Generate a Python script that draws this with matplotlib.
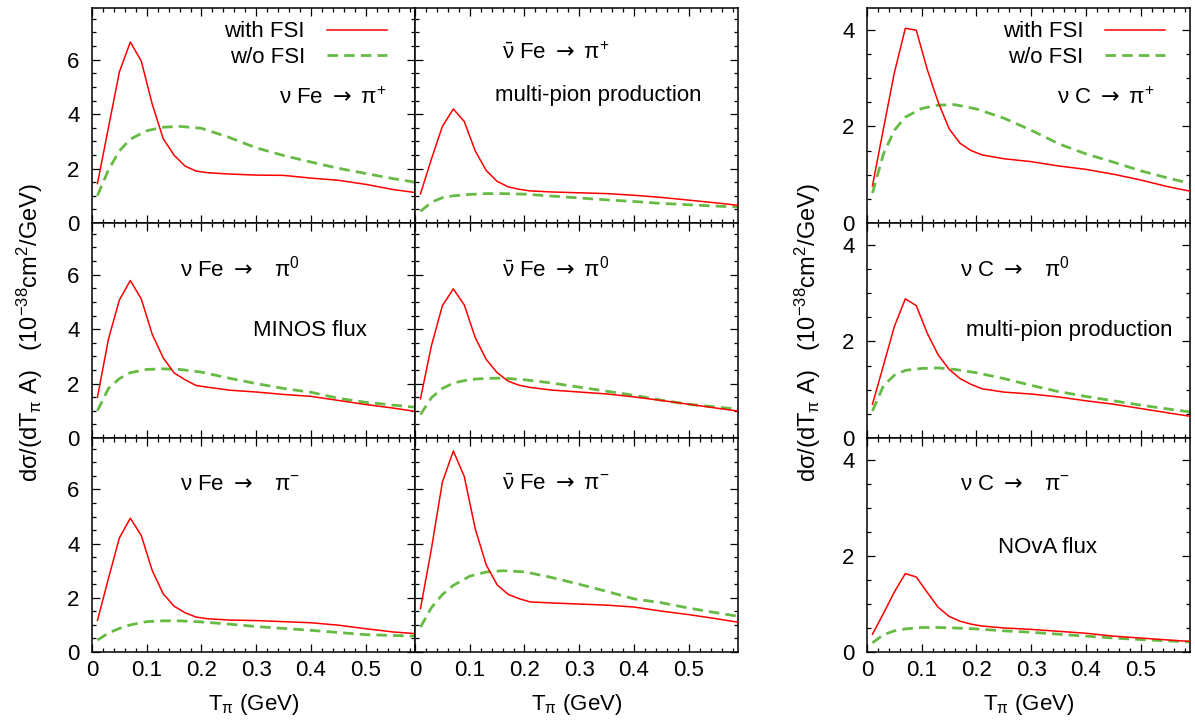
import matplotlib
matplotlib.use("Agg")
import matplotlib.pyplot as plt
from matplotlib.ticker import MultipleLocator

plt.rcParams['font.family'] = ['Liberation Sans', 'DejaVu Sans']
plt.rcParams['mathtext.fontset'] = 'custom'
plt.rcParams['mathtext.rm'] = 'Liberation Sans'
plt.rcParams['mathtext.it'] = 'Liberation Sans'
plt.rcParams['mathtext.sf'] = 'DejaVu Sans'
plt.rcParams['mathtext.default'] = 'rm'

# pion kinetic energy grids (GeV)
t_fsi = [0.01, 0.03, 0.05, 0.07, 0.09, 0.11, 0.13, 0.15, 0.17, 0.19, 0.21,
         0.25, 0.30, 0.35, 0.40, 0.45, 0.50, 0.55, 0.59]
t_nofsi = [0.01, 0.03, 0.05, 0.07, 0.10, 0.13, 0.16, 0.20, 0.25, 0.30, 0.35,
           0.40, 0.45, 0.50, 0.55, 0.59]

# cross sections, 1e-38 cm^2/GeV per nucleon -- with FSI
nu_fe_pip_fsi = [1.45, 3.50, 5.55, 6.65, 5.95, 4.37, 3.10, 2.49, 2.09, 1.91, 1.85,
                 1.80, 1.76, 1.75, 1.65, 1.57, 1.42, 1.23, 1.12]
nubar_fe_pip_fsi = [1.07, 2.35, 3.55, 4.19, 3.73, 2.65, 1.93, 1.53, 1.33, 1.24, 1.18,
                    1.14, 1.11, 1.08, 1.02, 0.94, 0.84, 0.74, 0.65]
nu_c_pip_fsi = [0.77, 1.95, 3.11, 4.03, 3.99, 3.18, 2.50, 1.95, 1.65, 1.50, 1.41,
                1.33, 1.27, 1.18, 1.11, 1.01, 0.89, 0.75, 0.66]
nu_fe_pi0_fsi = [1.50, 3.63, 5.07, 5.79, 5.11, 3.81, 2.95, 2.39, 2.14, 1.93, 1.87,
                 1.76, 1.69, 1.60, 1.53, 1.38, 1.23, 1.10, 0.98]
nubar_fe_pi0_fsi = [1.44, 3.39, 4.86, 5.48, 4.89, 3.69, 2.89, 2.40, 2.09, 1.94, 1.86,
                    1.76, 1.69, 1.62, 1.51, 1.38, 1.24, 1.10, 0.99]
nu_c_pi0_fsi = [0.70, 1.50, 2.31, 2.88, 2.74, 2.17, 1.72, 1.42, 1.23, 1.11, 1.02,
                0.95, 0.91, 0.85, 0.77, 0.70, 0.61, 0.52, 0.45]
nu_fe_pim_fsi = [1.17, 2.71, 4.21, 4.94, 4.30, 3.01, 2.15, 1.69, 1.45, 1.29, 1.23,
                 1.18, 1.16, 1.12, 1.08, 0.99, 0.86, 0.74, 0.68]
nubar_fe_pim_fsi = [1.60, 3.81, 6.27, 7.42, 6.48, 4.55, 3.22, 2.48, 2.13, 1.97, 1.85,
                    1.81, 1.77, 1.73, 1.66, 1.51, 1.38, 1.23, 1.10]
nu_c_pim_fsi = [0.37, 0.80, 1.25, 1.63, 1.56, 1.24, 0.93, 0.74, 0.64, 0.58, 0.54,
                0.50, 0.47, 0.43, 0.39, 0.33, 0.29, 0.25, 0.22]

# without FSI
nu_fe_pip_nofsi = [1.01, 1.95, 2.65, 3.08, 3.39, 3.52, 3.55, 3.48, 3.15, 2.76, 2.48,
                   2.24, 2.01, 1.82, 1.63, 1.50]
nubar_fe_pip_nofsi = [0.43, 0.76, 0.93, 1.00, 1.05, 1.08, 1.08, 1.06, 0.99, 0.92, 0.85,
                      0.79, 0.72, 0.67, 0.62, 0.59]
nu_c_pip_nofsi = [0.62, 1.43, 1.92, 2.19, 2.37, 2.44, 2.45, 2.36, 2.17, 1.92, 1.64,
                  1.43, 1.26, 1.08, 0.93, 0.82]
nu_fe_pi0_nofsi = [1.00, 1.82, 2.18, 2.40, 2.52, 2.54, 2.52, 2.42, 2.20, 2.00, 1.82,
                   1.68, 1.46, 1.31, 1.21, 1.13]
nubar_fe_pi0_nofsi = [0.86, 1.48, 1.82, 2.02, 2.15, 2.19, 2.20, 2.14, 2.02, 1.87, 1.72,
                      1.57, 1.39, 1.24, 1.14, 1.06]
nu_c_pi0_nofsi = [0.56, 1.08, 1.30, 1.40, 1.44, 1.45, 1.42, 1.35, 1.23, 1.09, 0.96,
                  0.86, 0.77, 0.68, 0.60, 0.54]
nu_fe_pim_nofsi = [0.44, 0.70, 0.87, 1.00, 1.12, 1.15, 1.15, 1.11, 1.03, 0.94, 0.87,
                   0.80, 0.72, 0.64, 0.61, 0.59]
nubar_fe_pim_nofsi = [0.92, 1.64, 2.12, 2.46, 2.80, 2.95, 3.00, 2.96, 2.75, 2.50, 2.24,
                      1.96, 1.82, 1.62, 1.45, 1.32]
nu_c_pim_nofsi = [0.19, 0.36, 0.44, 0.48, 0.51, 0.51, 0.50, 0.48, 0.44, 0.41, 0.37,
                  0.33, 0.29, 0.26, 0.23, 0.21]

x_ticks = [0, 0.1, 0.2, 0.3, 0.4, 0.5]
x_ticklabels = ['0', '0.1', '0.2', '0.3', '0.4', '0.5']
fe_ticks = [0, 2, 4, 6]
c_ticks = [0, 2, 4]

RED = '#ff0000'
GREEN = '#66bb44'
FS = 16

fig = plt.figure(figsize=(11.95, 7.26), dpi=100)

# panel geometry in pixels
W, H = 1195, 726
col_left = [92, 415, 867]
col_w = 323
row_top = [8, 223, 438]
row_h = [215, 215, 214]

panels = [
    # row, col, fsi, nofsi, ymax
    (0, 0, nu_fe_pip_fsi, nu_fe_pip_nofsi, 7.9),
    (0, 1, nubar_fe_pip_fsi, nubar_fe_pip_nofsi, 7.9),
    (0, 2, nu_c_pip_fsi, nu_c_pip_nofsi, 4.45),
    (1, 0, nu_fe_pi0_fsi, nu_fe_pi0_nofsi, 7.9),
    (1, 1, nubar_fe_pi0_fsi, nubar_fe_pi0_nofsi, 7.9),
    (1, 2, nu_c_pi0_fsi, nu_c_pi0_nofsi, 4.45),
    (2, 0, nu_fe_pim_fsi, nu_fe_pim_nofsi, 7.9),
    (2, 1, nubar_fe_pim_fsi, nubar_fe_pim_nofsi, 7.9),
    (2, 2, nu_c_pim_fsi, nu_c_pim_nofsi, 4.45),
]

axes = {}
for r, c, fsi, nofsi, ymax in panels:
    x0 = col_left[c] / W
    y0 = 1 - (row_top[r] + row_h[r]) / H
    ax = fig.add_axes([x0, y0, col_w / W, row_h[r] / H])
    axes[(r, c)] = ax
    ax.plot(t_fsi, fsi, color=RED, lw=1.1, label='with FSI', zorder=3)
    ax.plot(t_nofsi, nofsi, color=GREEN, lw=2.0, dashes=(3.8, 2.2),
            label='w/o FSI', zorder=2)
    ax.set_xlim(0, 0.59)
    ax.set_ylim(0, ymax)
    ax.set_xticks(x_ticks)
    ax.set_yticks(c_ticks if c == 2 else fe_ticks)
    ax.xaxis.set_minor_locator(MultipleLocator(0.02))
    ax.yaxis.set_minor_locator(MultipleLocator(0.5))
    ax.tick_params(which='both', direction='in', top=True, right=True,
                   labelsize=FS, width=0.9)
    ax.tick_params(which='major', length=5.5)
    ax.tick_params(which='minor', length=2.8)
    ax.tick_params(axis='x', pad=6)
    ax.tick_params(axis='y', pad=9)
    for s in ax.spines.values():
        s.set_linewidth(1.1)
    if r < 2:
        ax.set_xticklabels([])
    else:
        ax.set_xticklabels(x_ticklabels)
        ax.set_xlabel(r'T$_{\pi}$ (GeV)', fontsize=FS, labelpad=8)
    if c == 1:
        ax.set_yticklabels([])

legend_anchor = {0: 0.955, 2: 0.965}
for c in (0, 2):
    axes[(0, c)].legend(loc='upper right', bbox_to_anchor=(legend_anchor[c], 1.0),
                        frameon=False, markerfirst=False, fontsize=FS,
                        handlelength=2.7, handletextpad=1.0,
                        labelspacing=0.2, borderaxespad=0.2)

ARROW = r'$\mathsf{\rightarrow}$'
labels = [
    # row, col, x, y, text
    (0, 0, 0.746, 0.58, r'$\nu$ Fe ' + ARROW + r' $\pi^{+}$'),
    (0, 1, 0.437, 0.79, r'$\bar{\nu}$ Fe ' + ARROW + r' $\pi^{+}$'),
    (0, 1, 0.567, 0.595, 'multi-pion production'),
    (0, 2, 0.74, 0.58, r'$\nu$ C ' + ARROW + r' $\pi^{+}$'),
    (1, 0, 0.458, 0.79, r'$\nu$ Fe ' + ARROW + r'   $\pi^{0}$'),
    (1, 0, 0.675, 0.50, 'MINOS flux'),
    (1, 1, 0.437, 0.79, r'$\bar{\nu}$ Fe ' + ARROW + r' $\pi^{0}$'),
    (1, 2, 0.458, 0.79, r'$\nu$ C ' + ARROW + r'   $\pi^{0}$'),
    (1, 2, 0.625, 0.50, 'multi-pion production'),
    (2, 0, 0.458, 0.785, r'$\nu$ Fe ' + ARROW + r'   $\pi^{-}$'),
    (2, 1, 0.437, 0.785, r'$\bar{\nu}$ Fe ' + ARROW + r' $\pi^{-}$'),
    (2, 2, 0.458, 0.785, r'$\nu$ C ' + ARROW + r'   $\pi^{-}$'),
    (2, 2, 0.56, 0.49, 'NOvA flux'),
]
for r, c, x, y, s in labels:
    ax = axes[(r, c)]
    ax.text(x, y, s, transform=ax.transAxes, fontsize=FS, ha='center', va='center')

ylab = r'd$\sigma$/(dT$_{\pi}$ A)   (10$^{-38}$cm$^{2}$/GeV)'
for xpix in (30, 808):
    fig.text(xpix / W, 1 - 333 / H, ylab, rotation=90, ha='center', va='center',
             fontsize=17)

fig.savefig('out.png', dpi=100)
